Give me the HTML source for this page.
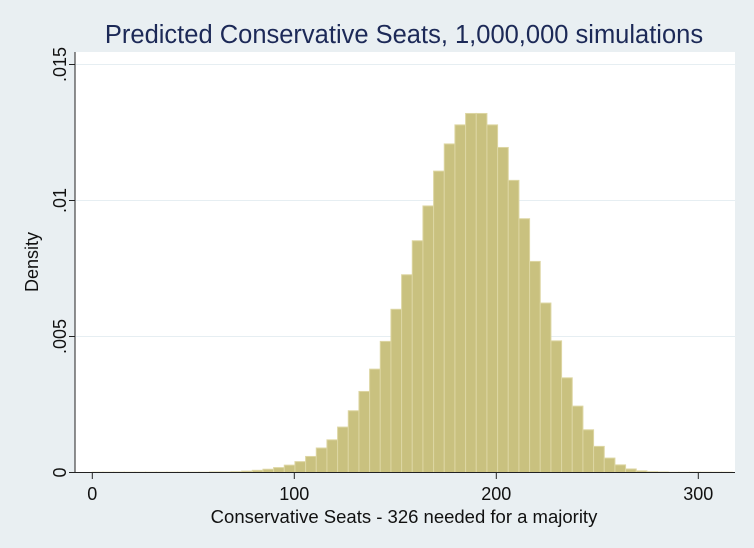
<!DOCTYPE html>
<html><head><meta charset="utf-8"><style>
body{margin:0;background:#e9eff2;}
svg{display:block;font-family:"Liberation Sans",sans-serif;}
</style></head><body>
<svg id="chart" width="754" height="548">
<rect x="0" y="0" width="754" height="548" fill="#e9eff2"/>
<text x="404" y="43" text-anchor="middle" font-size="25.5" fill="#1c2957">Predicted Conservative Seats, 1,000,000 simulations</text>
<rect x="75" y="52" width="660" height="420" fill="#fff"/>
<g id="grid"></g><g id="bars"></g><g id="axes"></g>
<text x="404" y="523" text-anchor="middle" font-size="18.5" fill="#111">Conservative Seats - 326 needed for a majority</text>
<text transform="translate(38,262) rotate(-90)" text-anchor="middle" font-size="18" fill="#111">Density</text>
</svg>
<script>
const binStart = 0;
const binWidth = 5.28;
const densities = [0.00001,0.00001,0.00001,0.00001,0.00001,0.00001,0.00001,0.00001,0.00001,0.00001,0.00001,0.00002,0.00002,0.00003,0.00005,0.00008,0.00012,0.00018,0.00027,0.0004,0.00059,0.0009,0.0012,0.00167,0.00227,0.00298,0.0038,0.00482,0.006,0.00727,0.00852,0.0098,0.01108,0.01208,0.01278,0.0132,0.0132,0.01278,0.01195,0.01074,0.00933,0.00776,0.00623,0.00484,0.00348,0.00244,0.00157,0.00096,0.00053,0.00028,0.00013,0.00006,0.00003,0.00002,0.00001,0.00001,0.00001,0.00001,0.00001,0.00001];
const xTicks = [0,100,200,300];
const yTicks = [0,0.005,0.01,0.015];
const yTickLabels = ["0",".005",".01",".015"];
const NS="http://www.w3.org/2000/svg";
function xs(v){return 92.3+v*2.02;}
function ys(v){return 472.5-v*27200;}
function mk(tag,attrs,parent){const e=document.createElementNS(NS,tag);for(const k in attrs)e.setAttribute(k,attrs[k]);parent.appendChild(e);return e;}
const grid=document.getElementById('grid'),bars=document.getElementById('bars'),axes=document.getElementById('axes');
yTicks.forEach((t,i)=>{
  if(t>0){const g=mk('line',{x1:76,x2:735,y1:ys(t),y2:ys(t),stroke:'#e6eef2','stroke-width':1},grid);
  
  }
  const tk=mk('line',{x1:69,x2:75,y1:ys(t),y2:ys(t),stroke:'#222'},axes);
  
  
  const y=ys(t);
  const lb=mk('text',{transform:`translate(66,${y}) rotate(-90)`,'text-anchor':'middle','font-size':18,fill:'#111'},axes);
  lb.textContent=yTickLabels[i];
  
  
});
densities.forEach((d,i)=>{
  const x0=xs(binStart+i*binWidth),x1=xs(binStart+(i+1)*binWidth);
  const r=mk('rect',{x:x0,y:ys(d),width:x1-x0,height:ys(0)-ys(d),fill:'#c9c17f',stroke:'#ddd6a3','stroke-width':1},bars);
  
  
});
const ax=mk('line',{x1:75,x2:75,y1:52,y2:473,stroke:'#222'},axes);


const bx=mk('line',{x1:69,x2:735,y1:472.5,y2:472.5,stroke:'#222'},axes);


xTicks.forEach(t=>{
  const tk=mk('line',{x1:xs(t),x2:xs(t),y1:472.5,y2:479,stroke:'#222'},axes);
  
  
  const lb=mk('text',{x:xs(t),y:500,'text-anchor':'middle','font-size':18,fill:'#111'},axes);
  lb.textContent=String(t);
  
  
});
</script>
</body></html>
